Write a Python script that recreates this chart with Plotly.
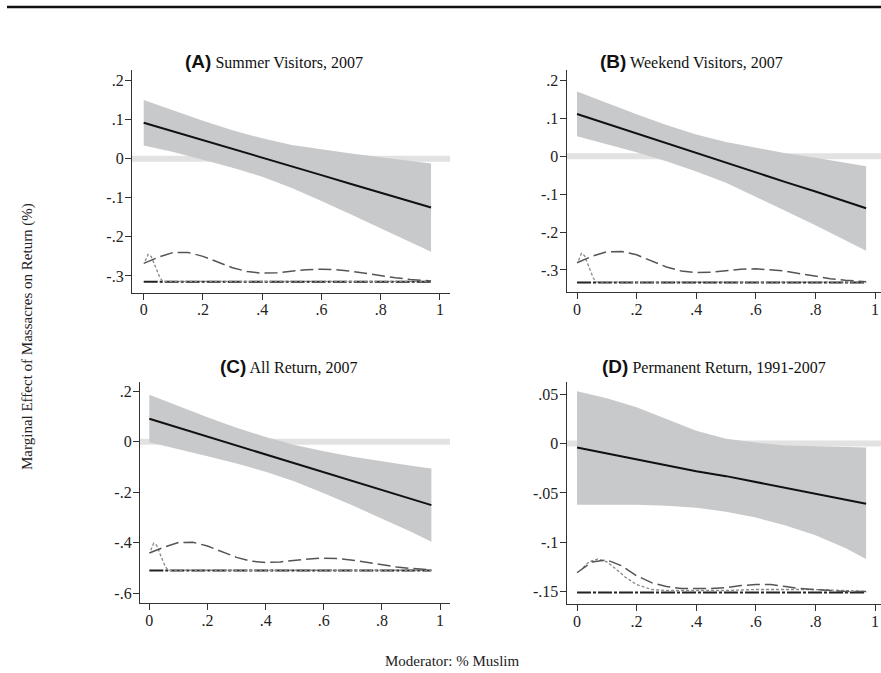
import plotly.graph_objects as go

W, H = 881, 673

# ---------------- data ----------------
grid = [0, 0.1, 0.2, 0.3, 0.4, 0.5, 0.6, 0.7, 0.8, 0.9, 0.97]

effect_A = [0.092, 0.070, 0.047, 0.025, 0.003, -0.020, -0.042, -0.065, -0.087, -0.109, -0.125]
upper_A = [0.150, 0.123, 0.097, 0.073, 0.052, 0.035, 0.024, 0.013, 0.004, -0.005, -0.012]
lower_A = [0.034, 0.017, -0.003, -0.023, -0.046, -0.075, -0.108, -0.143, -0.178, -0.213, -0.238]

effect_B = [0.112, 0.086, 0.061, 0.035, 0.009, -0.016, -0.042, -0.068, -0.093, -0.119, -0.137]
upper_B = [0.171, 0.140, 0.111, 0.083, 0.058, 0.038, 0.022, 0.008, -0.004, -0.017, -0.026]
lower_B = [0.053, 0.032, 0.011, -0.013, -0.040, -0.070, -0.106, -0.144, -0.182, -0.221, -0.249]

effect_C = [0.091, 0.056, 0.020, -0.015, -0.050, -0.085, -0.121, -0.156, -0.191, -0.226, -0.251]
upper_C = [0.186, 0.141, 0.097, 0.056, 0.019, -0.013, -0.038, -0.059, -0.078, -0.095, -0.106]
lower_C = [-0.002, -0.029, -0.057, -0.086, -0.119, -0.157, -0.204, -0.253, -0.304, -0.357, -0.396]

effect_D = [-0.004, -0.010, -0.016, -0.022, -0.028, -0.033, -0.039, -0.045, -0.051, -0.057, -0.061]
upper_D = [0.053, 0.046, 0.037, 0.025, 0.013, 0.005, 0.001, -0.002, -0.003, -0.004, -0.004]
lower_D = [-0.062, -0.062, -0.062, -0.063, -0.065, -0.069, -0.075, -0.083, -0.093, -0.106, -0.117]

dens_x = [0, 0.05, 0.1, 0.15, 0.2, 0.25, 0.3, 0.35, 0.4, 0.45, 0.5,
          0.55, 0.6, 0.65, 0.7, 0.75, 0.8, 0.85, 0.9, 0.95, 0.97]
dens_A = [-0.268, -0.252, -0.240, -0.240, -0.250, -0.265, -0.279, -0.289, -0.293, -0.292, -0.288,
          -0.284, -0.283, -0.284, -0.288, -0.294, -0.300, -0.305, -0.309, -0.312, -0.313]
dens_B = [-0.281, -0.264, -0.252, -0.251, -0.260, -0.276, -0.292, -0.303, -0.307, -0.306, -0.302,
          -0.298, -0.297, -0.299, -0.303, -0.310, -0.317, -0.323, -0.327, -0.330, -0.331]
dens_C = [-0.441, -0.418, -0.399, -0.398, -0.413, -0.436, -0.458, -0.473, -0.478, -0.476, -0.470,
          -0.464, -0.461, -0.463, -0.469, -0.478, -0.488, -0.496, -0.502, -0.506, -0.507]
dens_D = [-0.131, -0.120, -0.118, -0.124, -0.134, -0.141, -0.145, -0.147, -0.147, -0.147, -0.146,
          -0.144, -0.143, -0.143, -0.145, -0.147, -0.148, -0.149, -0.150, -0.150, -0.150]

dot_x = [0.005, 0.015, 0.025, 0.035, 0.045, 0.055, 0.065, 0.97]
dot_A = [-0.262, -0.245, -0.250, -0.268, -0.288, -0.305, -0.314, -0.314]
dot_B = [-0.275, -0.256, -0.262, -0.283, -0.305, -0.322, -0.332, -0.332]
dot_C = [-0.430, -0.402, -0.410, -0.440, -0.470, -0.495, -0.509, -0.509]
dot_xD = [0.02, 0.04, 0.07, 0.1, 0.13, 0.16, 0.2, 0.25, 0.3, 0.4, 0.5, 0.6, 0.7, 0.8, 0.9, 0.97]
dot_D = [-0.126, -0.120, -0.117, -0.120, -0.127, -0.135, -0.143, -0.148, -0.149, -0.149,
         -0.149, -0.148, -0.148, -0.148, -0.149, -0.150]

base_x = [0, 0.97]
base_A = [-0.315, -0.315]
base_B = [-0.333, -0.333]
base_C = [-0.510, -0.510]
base_D = [-0.151, -0.151]

x_tickvals = [0, 0.2, 0.4, 0.6, 0.8, 1]
x_ticktext = ["0", ".2", ".4", ".6", ".8", "1"]
yA_vals = [0.2, 0.1, 0, -0.1, -0.2, -0.3]
yA_text = [".2", ".1", "0", "-.1", "-.2", "-.3"]
yC_vals = [0.2, 0, -0.2, -0.4, -0.6]
yC_text = [".2", "0", "-.2", "-.4", "-.6"]
yD_vals = [0.05, 0, -0.05, -0.1, -0.15]
yD_text = [".05", "0", "-.05", "-.1", "-.15"]

panel_letters = ["(A)", "(B)", "(C)", "(D)"]
panel_titles = ["Summer Visitors, 2007", "Weekend Visitors, 2007",
                "All Return, 2007", "Permanent Return, 1991-2007"]

y_title = "Marginal Effect of Massacres on Return (%)"
x_title = "Moderator: % Muslim"

# ---------------- layout geometry (pixels) ----------------
panels = [
    dict(eff=effect_A, up=upper_A, lo=lower_A, dens=dens_A, dx=dot_x, dot=dot_A, base=base_A,
         xpx=(132, 450), ypx=(70, 292.7), xr=[-0.0395, 1.034], yr=[-0.343, 0.227],
         tv=yA_vals, tt=yA_text, title_left=183, title_y=61),
    dict(eff=effect_B, up=upper_B, lo=lower_B, dens=dens_B, dx=dot_x, dot=dot_B, base=base_B,
         xpx=(566.7, 881), ypx=(70, 292.3), xr=[-0.0346, 1.020], yr=[-0.359, 0.228],
         tv=yA_vals, tt=yA_text, title_left=598, title_y=61),
    dict(eff=effect_C, up=upper_C, lo=lower_C, dens=dens_C, dx=dot_x, dot=dot_C, base=base_C,
         xpx=(140, 450), ypx=(381.7, 603.3), xr=[-0.032, 1.034], yr=[-0.64, 0.238],
         tv=yC_vals, tt=yC_text, title_left=218, title_y=367),
    dict(eff=effect_D, up=upper_D, lo=lower_D, dens=dens_D, dx=dot_xD, dot=dot_D, base=base_D,
         xpx=(566.7, 881), ypx=(381.7, 604.3), xr=[-0.0346, 1.020], yr=[-0.163, 0.0628],
         tv=yD_vals, tt=yD_text, title_left=600, title_y=367),
]

SERIF = "Liberation Serif"
CI_COLOR = "#c8c9cb"

fig = go.Figure()
layout = dict(
    width=W, height=H, margin=dict(l=0, r=0, t=0, b=0),
    paper_bgcolor="white", plot_bgcolor="white", showlegend=False,
    font=dict(family=SERIF, size=16, color="#222"),
)
annotations = []
shapes = []

for i, p in enumerate(panels):
    n = "" if i == 0 else str(i + 1)
    xa, ya = "x" + n, "y" + n
    fig.add_trace(go.Scatter(
        x=grid + grid[::-1], y=p["up"] + p["lo"][::-1], xaxis=xa, yaxis=ya,
        fill="toself", fillcolor=CI_COLOR, line=dict(width=0), mode="lines",
        hoverinfo="skip"))
    fig.add_trace(go.Scatter(x=grid, y=p["eff"], xaxis=xa, yaxis=ya, mode="lines",
                             line=dict(color="#111", width=2)))
    fig.add_trace(go.Scatter(x=base_x, y=p["base"], xaxis=xa, yaxis=ya, mode="lines",
                             line=dict(color="#222", width=2, dash="14px,2px,3px,2px")))
    fig.add_trace(go.Scatter(x=p["dx"], y=p["dot"], xaxis=xa, yaxis=ya, mode="lines",
                             line=dict(color="#8a8a8a", width=1.3, dash="3px,2px")))
    fig.add_trace(go.Scatter(x=dens_x, y=p["dens"], xaxis=xa, yaxis=ya, mode="lines",
                             line=dict(color="#555", width=1.5, dash="13px,5px")))

    x0, x1 = p["xpx"]
    yt, yb = p["ypx"]
    layout["xaxis" + n] = dict(
        domain=[x0 / W, min(x1 / W, 1.0)], range=p["xr"], anchor=ya,
        showline=True, linecolor="#333", linewidth=1.3, mirror=False,
        showgrid=False, zeroline=False, ticks="outside", ticklen=6, tickwidth=1,
        tickcolor="#333", tickvals=x_tickvals, ticktext=x_ticktext, ticklabelstandoff=-4,
        tickfont=dict(family=SERIF, size=16, color="#222"))
    layout["yaxis" + n] = dict(
        domain=[1 - yb / H, 1 - yt / H], range=p["yr"], anchor=xa,
        showline=True, linecolor="#333", linewidth=1.3, mirror=False,
        showgrid=False, zeroline=False, ticks="outside", ticklen=6, tickwidth=1,
        tickcolor="#333", tickvals=p["tv"], ticktext=p["tt"], ticklabelstandoff=-2,
        tickfont=dict(family=SERIF, size=16, color="#222"))
    shapes.append(dict(type="line", xref=xa + " domain", yref=ya, x0=0, x1=1, y0=0, y1=0,
                       line=dict(color="#e2e2e2", width=6), layer="below"))
    annotations.append(dict(
        xref="paper", yref="paper", x=p["title_left"] / W, y=1 - p["title_y"] / H,
        xanchor="left", yanchor="middle", showarrow=False,
        text=('<span style="font-family:Liberation Sans;font-weight:bold;font-size:19px">'
              + panel_letters[i] + '</span> ' + panel_titles[i]),
        font=dict(family=SERIF, size=16, color="#111")))

annotations.append(dict(xref="paper", yref="paper", x=27 / W, y=1 - 337 / H,
                        xanchor="center", yanchor="middle", showarrow=False, textangle=-90,
                        text=y_title, font=dict(family=SERIF, size=15, color="#222")))
annotations.append(dict(xref="paper", yref="paper", x=452 / W, y=1 - 661 / H,
                        xanchor="center", yanchor="middle", showarrow=False,
                        text=x_title, font=dict(family=SERIF, size=15, color="#222")))

shapes.append(dict(type="line", xref="paper", yref="paper", x0=7 / W, x1=1,
                   y0=1 - 7 / H, y1=1 - 7 / H, line=dict(color="#111", width=2.5)))

layout["annotations"] = annotations
layout["shapes"] = shapes
fig.update_layout(**layout)
fig.write_html("out.html", config={"displayModeBar": False},
               post_script="document.body.style.margin='0';document.body.style.overflow='hidden';")
